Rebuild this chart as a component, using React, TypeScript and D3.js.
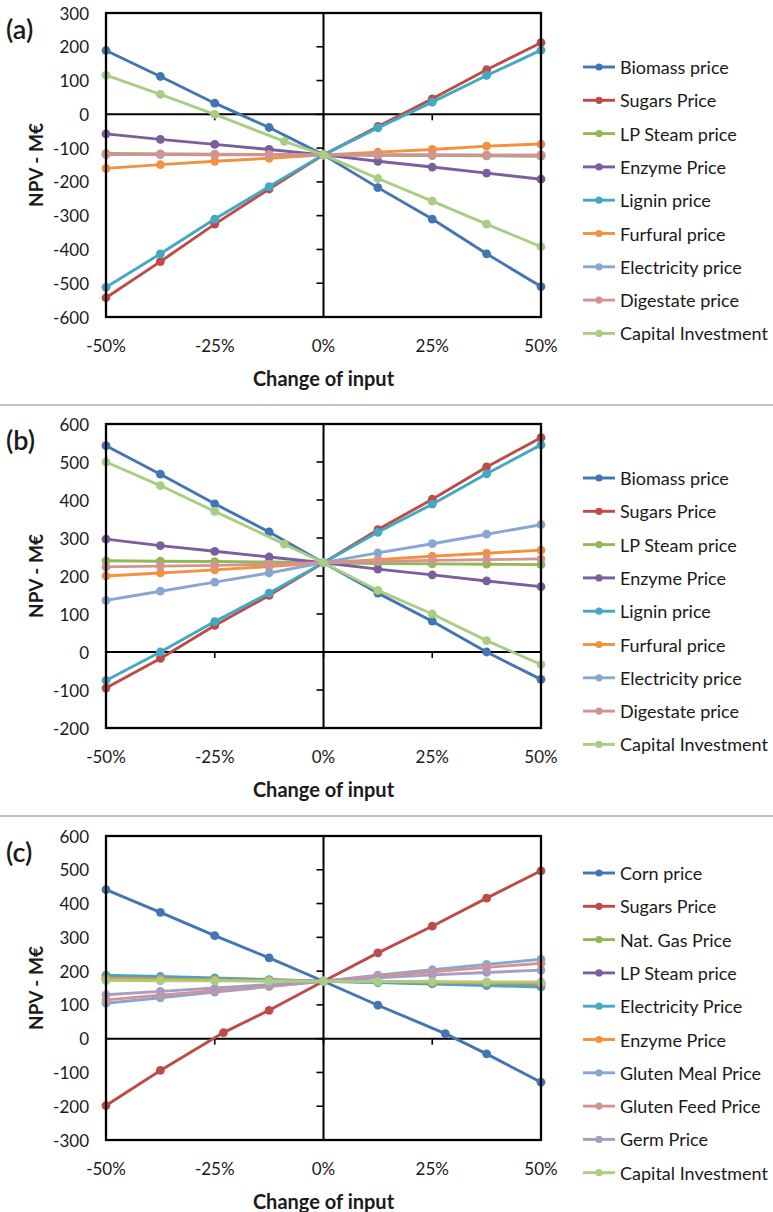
import React from "react";
import * as d3 from "d3";

// Change of input (%) at which NPV was evaluated
const X_STEPS = [-50, -37.5, -25, -12.5, 0, 12.5, 25, 37.5, 50];
const X_CAPITAL_AB = [-50, -37.5, -25, -9, 0, 12.5, 25, 37.5, 50];
const X_SUGARS_C = [-50, -37.5, -23, -12.5, 0, 12.5, 25, 37.5, 50];
const X_CORN_C = [-50, -37.5, -25, -12.5, 0, 12.5, 28, 37.5, 50];

const X_TICKS = [-50, -25, 0, 25, 50];
const X_TICK_LABELS = ["-50%", "-25%", "0%", "25%", "50%"];

const Y_TICKS_A = [300, 200, 100, 0, -100, -200, -300, -400, -500, -600];
const Y_TICKS_B = [600, 500, 400, 300, 200, 100, 0, -100, -200];
const Y_TICKS_C = [600, 500, 400, 300, 200, 100, 0, -100, -200, -300];

// Panel (a): NPV (M€)
const A_NAMES = [
  "Biomass price", "Sugars Price", "LP Steam price", "Enzyme Price", "Lignin price",
  "Furfural price", "Electricity price", "Digestate price", "Capital Investment",
];
const A_BIOMASS = [189, 112, 33, -39, -120, -217, -310, -413, -510];
const A_SUGARS = [-543, -436, -325, -221, -120, -36, 46, 132, 212];
const A_LPSTEAM = [-116, -117, -118, -119, -120, -121, -122, -123, -124];
const A_ENZYME = [-58, -74, -89, -104, -120, -139, -156, -174, -192];
const A_LIGNIN = [-512, -413, -310, -214, -120, -40, 36, 115, 190];
const A_FURFURAL = [-160, -149, -139, -130, -120, -112, -104, -94, -88];
const A_ELECTRICITY = [-119, -119, -120, -120, -120, -120, -120, -121, -121];
const A_DIGESTATE = [-118, -118, -119, -119, -120, -120, -120, -121, -121];
const A_CAPITAL = [116, 59, 0, -80, -120, -190, -257, -325, -392];

// Panel (b): NPV (M€)
const B_NAMES = A_NAMES;
const B_BIOMASS = [543, 468, 390, 316, 235, 155, 81, 0, -72];
const B_SUGARS = [-95, -17, 70, 149, 235, 322, 402, 487, 564];
const B_LPSTEAM = [240, 239, 238, 237, 235, 233, 232, 231, 230];
const B_ENZYME = [297, 280, 265, 250, 235, 218, 203, 187, 172];
const B_LIGNIN = [-75, 0, 80, 155, 235, 315, 389, 469, 545];
const B_FURFURAL = [200, 208, 216, 225, 235, 243, 252, 260, 268];
const B_ELECTRICITY = [136, 160, 184, 208, 235, 261, 285, 310, 335];
const B_DIGESTATE = [224, 226, 228, 231, 235, 238, 241, 243, 245];
const B_CAPITAL = [500, 438, 370, 284, 235, 162, 100, 30, -33];

// Panel (c): NPV (M€)
const C_NAMES = [
  "Corn price", "Sugars Price", "Nat. Gas Price", "LP Steam price", "Electricity Price",
  "Enzyme Price", "Gluten Meal Price", "Gluten Feed Price", "Germ Price", "Capital Investment",
];
const C_CORN = [441, 374, 305, 239, 170, 99, 15, -45, -129];
const C_SUGARS = [-198, -94, 18, 84, 170, 254, 333, 416, 497];
const C_NATGAS = [182, 179, 176, 173, 170, 167, 164, 161, 158];
const C_LPSTEAM = [176, 175, 173, 172, 170, 168, 167, 165, 164];
const C_ELECTRICITY = [188, 184, 180, 175, 170, 166, 162, 157, 153];
const C_ENZYME = [178, 176, 174, 172, 170, 169, 167, 165, 164];
const C_GLUTEN_MEAL = [105, 121, 138, 154, 170, 188, 204, 220, 235];
const C_GLUTEN_FEED = [115, 129, 142, 156, 170, 185, 198, 211, 223];
const C_GERM = [130, 140, 150, 160, 170, 180, 189, 196, 203];
const C_CAPITAL = [172, 171, 171, 170, 170, 169, 169, 168, 168];

const BLUE = "#4275B3";
const RED = "#BE4B48";
const GREEN = "#93B754";
const PURPLE = "#7A5E9E";
const TEAL = "#43A8C4";
const ORANGE = "#F4913F";
const LIGHT_BLUE = "#86A7D4";
const PINK = "#D49391";
const LIGHT_GREEN = "#A9CE82";
const LIGHT_PURPLE = "#A99BC3";

type Series = { name: string; xs: number[]; ys: number[]; color: string };

const seriesA: Series[] = [
  { name: A_NAMES[0], xs: X_STEPS, ys: A_BIOMASS, color: BLUE },
  { name: A_NAMES[1], xs: X_STEPS, ys: A_SUGARS, color: RED },
  { name: A_NAMES[2], xs: X_STEPS, ys: A_LPSTEAM, color: GREEN },
  { name: A_NAMES[3], xs: X_STEPS, ys: A_ENZYME, color: PURPLE },
  { name: A_NAMES[4], xs: X_STEPS, ys: A_LIGNIN, color: TEAL },
  { name: A_NAMES[5], xs: X_STEPS, ys: A_FURFURAL, color: ORANGE },
  { name: A_NAMES[6], xs: X_STEPS, ys: A_ELECTRICITY, color: LIGHT_BLUE },
  { name: A_NAMES[7], xs: X_STEPS, ys: A_DIGESTATE, color: PINK },
  { name: A_NAMES[8], xs: X_CAPITAL_AB, ys: A_CAPITAL, color: LIGHT_GREEN },
];

const seriesB: Series[] = [
  { name: B_NAMES[0], xs: X_STEPS, ys: B_BIOMASS, color: BLUE },
  { name: B_NAMES[1], xs: X_STEPS, ys: B_SUGARS, color: RED },
  { name: B_NAMES[2], xs: X_STEPS, ys: B_LPSTEAM, color: GREEN },
  { name: B_NAMES[3], xs: X_STEPS, ys: B_ENZYME, color: PURPLE },
  { name: B_NAMES[4], xs: X_STEPS, ys: B_LIGNIN, color: TEAL },
  { name: B_NAMES[5], xs: X_STEPS, ys: B_FURFURAL, color: ORANGE },
  { name: B_NAMES[6], xs: X_STEPS, ys: B_ELECTRICITY, color: LIGHT_BLUE },
  { name: B_NAMES[7], xs: X_STEPS, ys: B_DIGESTATE, color: PINK },
  { name: B_NAMES[8], xs: X_CAPITAL_AB, ys: B_CAPITAL, color: LIGHT_GREEN },
];

const seriesC: Series[] = [
  { name: C_NAMES[0], xs: X_CORN_C, ys: C_CORN, color: BLUE },
  { name: C_NAMES[1], xs: X_SUGARS_C, ys: C_SUGARS, color: RED },
  { name: C_NAMES[2], xs: X_STEPS, ys: C_NATGAS, color: GREEN },
  { name: C_NAMES[3], xs: X_STEPS, ys: C_LPSTEAM, color: PURPLE },
  { name: C_NAMES[4], xs: X_STEPS, ys: C_ELECTRICITY, color: TEAL },
  { name: C_NAMES[5], xs: X_STEPS, ys: C_ENZYME, color: ORANGE },
  { name: C_NAMES[6], xs: X_STEPS, ys: C_GLUTEN_MEAL, color: LIGHT_BLUE },
  { name: C_NAMES[7], xs: X_STEPS, ys: C_GLUTEN_FEED, color: PINK },
  { name: C_NAMES[8], xs: X_STEPS, ys: C_GERM, color: LIGHT_PURPLE },
  { name: C_NAMES[9], xs: X_STEPS, ys: C_CAPITAL, color: LIGHT_GREEN },
];

const FONT = "Lato, 'Open Sans', 'DejaVu Sans', sans-serif";
const TEXT = "#1a1a1a";

const PLOT_LEFT = 106;
const PLOT_RIGHT = 541;
const PLOT_HEIGHT = 304;

type PanelProps = {
  top: number;
  label: string;
  yTicks: number[];
  series: Series[];
  legendTop: number;
};

function Panel({ top, label, yTicks, series, legendTop }: PanelProps) {
  const bottom = top + PLOT_HEIGHT;
  const x = d3.scaleLinear().domain([-50, 50]).range([PLOT_LEFT, PLOT_RIGHT]);
  const y = d3
    .scaleLinear()
    .domain([d3.min(yTicks) as number, d3.max(yTicks) as number])
    .range([bottom, top]);
  const line = d3
    .line<[number, number]>()
    .x((d) => x(d[0]))
    .y((d) => y(d[1]));

  const x0 = x(0);
  const y0 = y(0);

  return (
    <g>
      <text x={6} y={top + 15} dominantBaseline="central" fontSize={27} fontWeight={600} fontFamily={FONT} fill={TEXT}>
        {label}
      </text>

      {/* value axis labels */}
      {yTicks.map((t) => (
        <text
          key={"yl" + t}
          x={89}
          y={y(t)}
          textAnchor="end"
          dominantBaseline="central"
          fontSize={17}
          fontFamily={FONT}
          fill={TEXT}
        >
          {t}
        </text>
      ))}
      <text
        transform={`translate(35,${(top + bottom) / 2}) rotate(-90)`}
        textAnchor="middle"
        dominantBaseline="central"
        fontSize={19}
        fontWeight="bold"
        fontFamily={FONT}
        fill={TEXT}
      >
        NPV - M€
      </text>

      {/* category axis labels */}
      {X_TICKS.map((t, i) => (
        <text
          key={"xl" + t}
          x={x(t)}
          y={bottom + 28}
          textAnchor="middle"
          dominantBaseline="central"
          fontSize={17}
          fontFamily={FONT}
          fill={TEXT}
        >
          {X_TICK_LABELS[i]}
        </text>
      ))}
      <text
        x={(PLOT_LEFT + PLOT_RIGHT) / 2}
        y={bottom + 61}
        textAnchor="middle"
        dominantBaseline="central"
        fontSize={20}
        fontWeight="bold"
        fontFamily={FONT}
        fill={TEXT}
      >
        Change of input
      </text>

      {/* axes crossing at zero */}
      <line x1={PLOT_LEFT} x2={PLOT_RIGHT} y1={y0} y2={y0} stroke="#000" strokeWidth={2} />
      <line x1={x0} x2={x0} y1={top} y2={bottom} stroke="#000" strokeWidth={2} />
      {yTicks.map((t) => (
        <line key={"yt" + t} x1={x0 - 7} x2={x0} y1={y(t)} y2={y(t)} stroke="#000" strokeWidth={1.6} />
      ))}
      {X_TICKS.map((t) => (
        <line key={"xt" + t} x1={x(t)} x2={x(t)} y1={y0} y2={y0 + 6} stroke="#000" strokeWidth={1.6} />
      ))}

      {/* series */}
      {series.map((s) => {
        const pts = s.xs.map((v, i) => [v, s.ys[i]] as [number, number]);
        return (
          <g key={s.name}>
            <path d={line(pts) || ""} fill="none" stroke={s.color} strokeWidth={2.9} strokeLinejoin="round" />
            {pts.map((p, i) => (
              <circle key={i} cx={x(p[0])} cy={y(p[1])} r={4.4} fill={s.color} />
            ))}
          </g>
        );
      })}

      <rect
        x={PLOT_LEFT}
        y={top}
        width={PLOT_RIGHT - PLOT_LEFT}
        height={PLOT_HEIGHT}
        fill="none"
        stroke="#000"
        strokeWidth={2.3}
      />

      {/* legend */}
      {series.map((s, i) => {
        const ly = legendTop + i * 33.3;
        return (
          <g key={"lg" + s.name}>
            <line x1={583} x2={615} y1={ly} y2={ly} stroke={s.color} strokeWidth={2.9} />
            <circle cx={599} cy={ly} r={3.6} fill={s.color} />
            <text
              x={620}
              y={ly}
              dominantBaseline="central"
              fontSize={18}
              fontFamily={FONT}
              fill={TEXT}
            >
              {s.name}
            </text>
          </g>
        );
      })}
    </g>
  );
}

export default function App() {
  return (
    <svg
      width={773}
      height={1212}
      style={{ position: "absolute", left: 0, top: 0, display: "block", background: "#fff" }}
    >
      <rect x={0} y={0} width={773} height={1212} fill="#fff" />
      <Panel top={13} label="(a)" yTicks={Y_TICKS_A} series={seriesA} legendTop={67} />
      <line x1={0} x2={773} y1={405} y2={405} stroke="#C3C3C3" strokeWidth={2} />
      <Panel top={424} label="(b)" yTicks={Y_TICKS_B} series={seriesB} legendTop={478} />
      <line x1={0} x2={773} y1={816} y2={816} stroke="#C3C3C3" strokeWidth={2} />
      <Panel top={836} label="(c)" yTicks={Y_TICKS_C} series={seriesC} legendTop={873} />
    </svg>
  );
}
